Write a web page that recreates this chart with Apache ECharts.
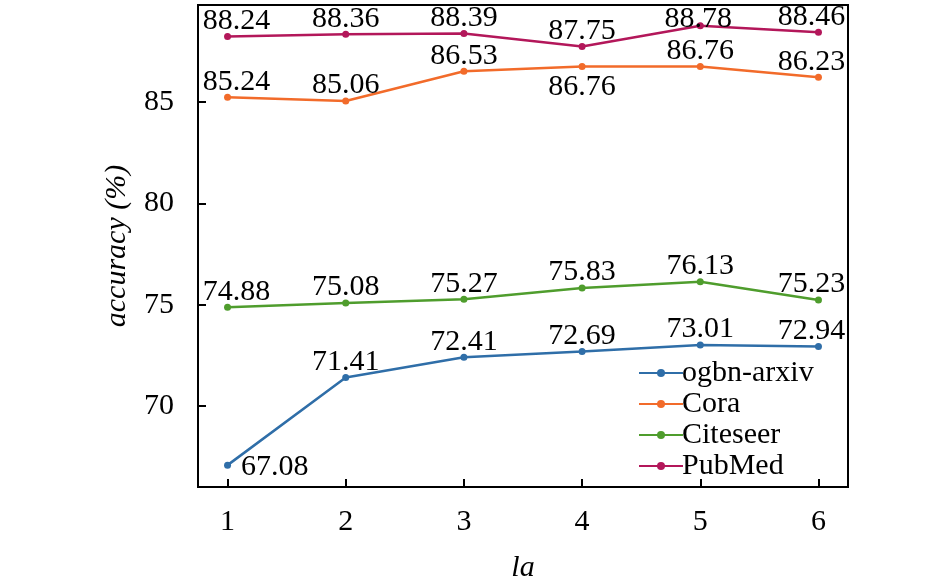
<!DOCTYPE html>
<html><head><meta charset="utf-8">
<script src="https://cdn.jsdelivr.net/npm/echarts@6/dist/echarts.min.js"></script>
<style>html,body{margin:0;padding:0;background:#fff}#c{width:945px;height:588px}</style>
</head><body><div id="c"></div>
<script>
const xValues = [1, 2, 3, 4, 5, 6];
const xTicks = [1, 2, 3, 4, 5, 6];
const yTicks = [70, 75, 80, 85];
const seriesNames = ['ogbn-arxiv', 'Cora', 'Citeseer', 'PubMed'];
const ogbnArxiv = [67.08, 71.41, 72.41, 72.69, 73.01, 72.94];
const cora = [85.24, 85.06, 86.53, 86.76, 86.76, 86.23];
const citeseer = [74.88, 75.08, 75.27, 75.83, 76.13, 75.23];
const pubmed = [88.24, 88.36, 88.39, 87.75, 88.78, 88.46];
const colors = ['#2f6ea8', '#f26b2a', '#4f9d2d', '#b3175a'];

const font = 'Liberation Serif';
const colShift = [9, 0, 0, 0, 0, -7];
const labelOverrides = {
  '0-0': {position: 'right', distance: 10, offset: [0, 2]},
  '1-3': {position: 'bottom', distance: 2},
  '3-4': {offset: [-2, 9]}
};

function build(vals, si) {
  return vals.map((v, i) => {
    const item = {value: [xValues[i], v]};
    const o = labelOverrides[si + '-' + i];
    if (o) item.label = o;
    else if (colShift[i]) item.label = {offset: [colShift[i], 0]};
    return item;
  });
}
const all = [ogbnArxiv, cora, citeseer, pubmed];
const chart = echarts.init(document.getElementById('c'));
chart.setOption({
  animation: false,
  color: colors,
  grid: {left: 198, right: 97, top: 5, bottom: 100, show: true, borderColor: '#000', borderWidth: 2},
  legend: {
    orient: 'vertical', left: 633, top: 353, itemWidth: 44, itemHeight: 10, itemGap: 1,
    data: seriesNames,
    textStyle: {fontFamily: font, fontSize: 30, color: '#000', padding: [0,0,0,-6]}
  },
  xAxis: {
    type: 'value', min: 0.75, max: 6.25,
    name: 'la', nameLocation: 'middle', nameGap: 66,
    nameTextStyle: {fontFamily: font, fontSize: 30, fontStyle: 'italic', color: '#000'},
    axisLine: {lineStyle: {color: '#000', width: 2}},
    axisTick: {inside: true, length: 8, lineStyle: {color: '#000', width: 2}, customValues: xTicks},
    axisLabel: {fontFamily: font, fontSize: 30, color: '#000', margin: 20, customValues: xTicks},
    splitLine: {show: false}
  },
  yAxis: {
    type: 'value', min: 66, max: 89.8,
    name: 'accuracy (%)', nameLocation: 'middle', nameGap: 66,
    nameTextStyle: {fontFamily: font, fontSize: 30, fontStyle: 'italic', color: '#000'},
    axisLine: {lineStyle: {color: '#000', width: 2}},
    axisTick: {inside: true, length: 8, lineStyle: {color: '#000', width: 2}, customValues: yTicks},
    axisLabel: {fontFamily: font, fontSize: 30, color: '#000', margin: 24, customValues: yTicks},
    splitLine: {show: false}
  },
  series: all.map((vals, si) => ({
    name: seriesNames[si], type: 'line', data: build(vals, si),
    symbol: 'circle', symbolSize: 7,
    lineStyle: {width: 2.5},
    label: {show: true, position: 'top', distance: -3, fontFamily: font, fontSize: 30, color: '#000',
      formatter: p => p.value[1].toFixed(2)}
  }))
});
</script></body></html>
